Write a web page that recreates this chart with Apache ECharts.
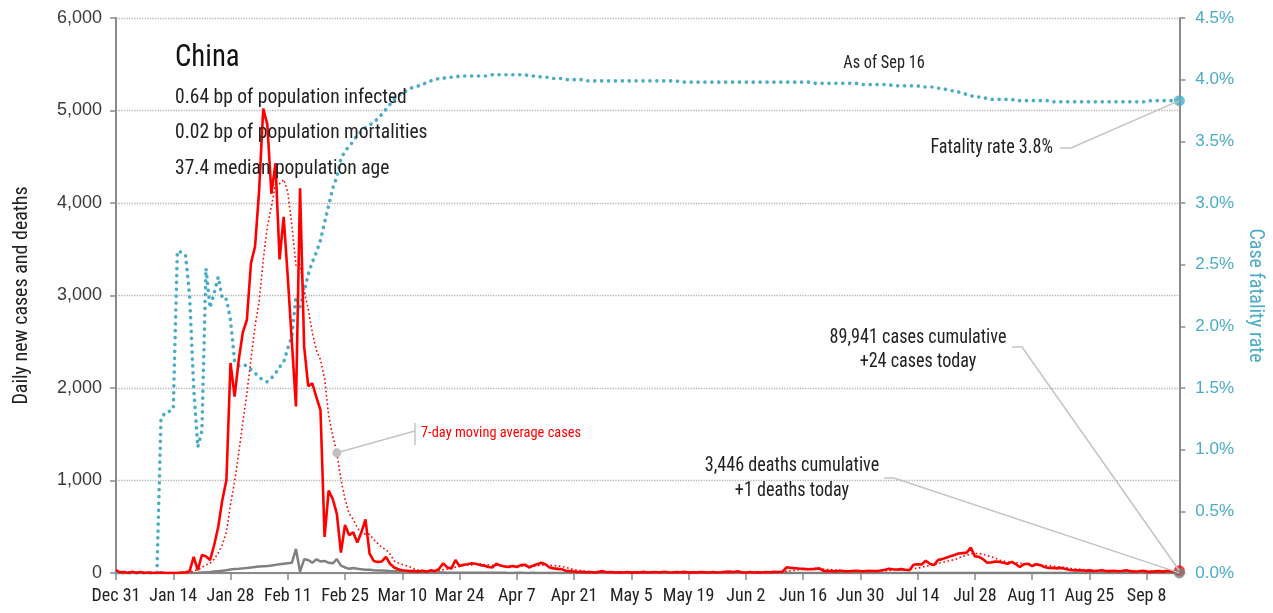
<!DOCTYPE html>
<html><head><meta charset="utf-8">
<script src="https://cdn.jsdelivr.net/npm/echarts@6/dist/echarts.min.js"></script>
<style>html,body{margin:0;padding:0;background:#fff}#c{width:1273px;height:613px}</style>
</head><body><div id="c"></div>
<script>
// ---------- DATA ----------
const startDate = [2019, 11, 31]; // Dec 31, 2019
const dayCount = 261;              // Dec 31 .. Sep 16
const tickLabels = ['Dec 31','Jan 14','Jan 28','Feb 11','Feb 25','Mar 10','Mar 24','Apr 7','Apr 21','May 5','May 19','Jun 2','Jun 16','Jun 30','Jul 14','Jul 28','Aug 11','Aug 25','Sep 8'];

const dailyCases = [
30,5,10,0,15,0,10,0,5,0,
0,5,0,0,0,0,5,5,20,175,
30,195,180,140,300,500,790,1005,2270,1906,
2300,2600,2735,3350,3530,4140,5020,4850,4100,4430,
3390,3850,3200,2500,1800,4160,2450,2020,2050,1900,
1760,390,890,800,640,220,520,410,440,330,
440,580,210,130,120,125,175,100,60,40,
30,25,20,20,15,25,15,30,20,45,
105,60,50,140,75,90,95,105,100,85,
80,65,60,100,80,70,65,75,65,85,
90,60,80,95,110,95,60,50,45,40,
25,20,15,10,12,8,10,6,12,20,
8,10,5,8,6,10,4,8,6,12,
5,8,10,6,14,8,6,10,8,12,
5,8,6,10,8,5,10,6,8,12,
15,10,18,8,6,10,5,8,6,10,
8,12,10,15,62,55,52,48,45,42,
40,45,50,22,20,22,18,25,20,18,
22,25,20,18,25,22,20,28,35,45,
40,38,42,35,30,90,95,92,133,100,
85,140,150,165,180,195,210,215,220,275,
180,175,150,110,115,125,120,110,100,120,
95,65,95,100,75,95,85,65,55,55,
50,55,45,35,30,28,30,25,28,22,
25,30,22,20,25,18,22,30,20,15,
18,25,15,12,18,20,15,25,20,15,
24];

const avgCases = [
30,17,15,11,12,10,10,6,6,4,
4,3,3,3,1,1,1,2,5,29,
34,61,87,106,149,217,305,444,741,987,
1296,1624,1944,2309,2670,2937,3382,3746,3961,4203,
4209,4254,4120,3760,3324,3333,3050,2854,2597,2411,
2306,2104,1700,1480,1300,1010,800,640,580,490,
429,420,419,363,321,276,254,206,131,107,
93,79,64,42,30,25,21,21,21,24,
36,43,46,64,71,81,88,88,94,99,
90,89,84,85,81,77,74,74,74,77,
76,73,74,79,84,88,84,79,76,71,
61,48,36,29,24,19,14,12,10,11,
11,10,10,9,9,9,8,7,7,8,
7,8,8,8,8,8,8,9,9,9,
9,8,8,8,8,8,8,8,8,8,
10,10,11,11,11,11,10,10,9,8,
8,8,8,10,18,25,31,36,41,46,
49,47,46,42,38,34,31,29,25,21,
21,21,21,21,21,21,22,23,24,28,
31,33,35,38,38,46,53,60,74,82,
89,105,114,124,136,145,161,179,191,209,
211,210,204,189,175,161,139,129,119,114,
112,105,101,98,93,92,87,83,81,76,
69,66,59,51,46,43,39,35,32,28,
27,27,25,24,24,23,22,24,23,21,
21,22,21,19,19,19,18,18,19,18,
19];

const dailyDeaths = [
0,0,0,0,0,0,0,0,0,0,
0,1,0,0,0,0,0,0,1,1,
2,5,8,10,15,20,25,30,38,42,
45,50,55,60,65,70,73,75,80,88,
95,100,105,110,260,14,148,140,110,148,
125,130,110,105,150,80,60,45,55,45,
40,35,35,30,28,28,25,22,20,17,
15,12,10,10,8,8,7,6,5,5,
5,4,4,3,3,4,3,3,3,2,
2,2,3,2,2,2,1,1,2,2,
1,1,2,1,1,1,0,1,0,0,
1,0,0,0,1,0,0,0,0,1,
0,0,0,0,0,1,0,0,0,0,
0,0,1,0,0,0,0,0,0,0,
0,0,0,0,0,0,0,1,0,0,
0,0,0,0,0,0,0,0,0,0,
0,0,0,0,0,0,0,0,0,0,
0,0,0,0,0,0,0,0,0,0,
0,0,0,0,0,0,0,0,0,0,
0,0,0,0,0,0,0,0,0,0,
0,0,0,0,0,0,0,0,0,0,
0,0,0,0,0,0,0,0,0,0,
0,0,0,0,0,0,0,0,0,0,
0,0,0,0,0,0,0,0,0,0,
0,0,0,0,0,0,0,0,0,0,
0,0,0,0,0,0,0,0,0,0,
1];

const fatalityRate = [
0,0,0,0,0,0,0,0,0,0,
0,1.25,1.30,1.31,1.33,2.61,2.60,2.58,2.25,1.50,
1.02,1.15,2.47,2.15,2.27,2.40,2.22,2.22,2.05,1.72,
1.68,1.69,1.68,1.65,1.62,1.59,1.56,1.55,1.58,1.62,
1.67,1.71,1.82,1.92,2.24,2.16,2.28,2.42,2.52,2.60,
2.70,2.84,2.98,3.12,3.21,3.36,3.42,3.46,3.50,3.55,
3.58,3.61,3.63,3.66,3.68,3.72,3.76,3.80,3.84,3.87,
3.89,3.91,3.93,3.94,3.95,3.96,3.98,3.99,4.00,4.01,
4.01,4.02,4.02,4.02,4.03,4.03,4.03,4.03,4.03,4.03,
4.03,4.03,4.04,4.04,4.04,4.04,4.04,4.04,4.04,4.04,
4.04,4.03,4.03,4.03,4.02,4.02,4.02,4.01,4.01,4.01,
4.00,4.00,4.00,4.00,4.00,3.99,3.99,3.99,3.99,3.99,
3.99,3.99,3.99,3.99,3.99,3.99,3.99,3.99,3.99,3.99,
3.99,3.99,3.99,3.99,3.99,3.99,3.99,3.99,3.98,3.98,
3.98,3.98,3.98,3.98,3.98,3.98,3.98,3.98,3.98,3.98,
3.98,3.98,3.98,3.98,3.98,3.98,3.98,3.98,3.98,3.98,
3.98,3.98,3.98,3.98,3.98,3.98,3.98,3.98,3.98,3.98,
3.98,3.97,3.97,3.97,3.97,3.97,3.97,3.97,3.97,3.97,
3.97,3.97,3.96,3.96,3.96,3.96,3.96,3.96,3.96,3.96,
3.95,3.95,3.95,3.95,3.95,3.95,3.95,3.94,3.94,3.94,
3.94,3.93,3.93,3.92,3.91,3.91,3.90,3.89,3.88,3.87,
3.86,3.86,3.85,3.85,3.84,3.84,3.84,3.84,3.84,3.84,
3.83,3.83,3.83,3.83,3.83,3.83,3.83,3.83,3.83,3.82,
3.82,3.82,3.82,3.82,3.82,3.82,3.82,3.82,3.82,3.82,
3.82,3.82,3.82,3.82,3.82,3.82,3.82,3.82,3.82,3.82,
3.82,3.82,3.82,3.83,3.83,3.83,3.83,3.83,3.83,3.83,
3.83];

const titleText = 'China';
const infoLines = ['0.64 bp of population infected','0.02 bp of population mortalities','37.4 median population age'];
const asOfText = 'As of Sep 16';
const rateText = 'Fatality rate 3.8%';
const casesText = ['89,941 cases cumulative','+24 cases today'];
const deathsText = ['3,446 deaths cumulative','+1 deaths today'];
const avgLabel = '7-day moving average cases';
const avgAnchorDay = 54;

// ---------- FONT PICK ----------
function hasFont(name) {
  const ctx = document.createElement('canvas').getContext('2d');
  const s = 'abcdefghijklmnopqrstuvwxyzABCDEFGHIJKLM0123456789';
  let diff = false;
  ['monospace', 'serif'].forEach(fb => {
    ctx.font = '40px ' + fb; const a = ctx.measureText(s).width;
    ctx.font = '40px "' + name + '", ' + fb; const b = ctx.measureText(s).width;
    if (Math.abs(a - b) > 0.5) diff = true;
  });
  return diff;
}
const condCandidates = [
  {name: 'Roboto Condensed', sx: 0.93, xl: 18, nm: 1.13},
  {name: 'Liberation Sans Narrow', sx: 0.93, xl: 18, nm: 1.1},
  {name: 'Arial Narrow', sx: 0.93, xl: 18, nm: 1.1},
  {name: 'DejaVu Sans Condensed', sx: 0.82, xl: 15, nm: 1.0}
];
let COND = condCandidates[condCandidates.length - 1];
for (const c of condCandidates) { if (hasFont(c.name)) { COND = c; break; } }
const NARROW = '"' + COND.name + '", sans-serif';
const REG = '"Liberation Sans", Arial, sans-serif';

// ---------- BUILD ----------
const MON = ['Jan','Feb','Mar','Apr','May','Jun','Jul','Aug','Sep','Oct','Nov','Dec'];
const categories = [];
for (let i = 0; i < dayCount; i++) {
  const d = new Date(Date.UTC(startDate[0], startDate[1], startDate[2] + i));
  categories.push(MON[d.getUTCMonth()] + ' ' + d.getUTCDate());
}
const BLUE = '#4bacc6';
const RED = '#ff0000';
const GREY = '#808080';
const last = dayCount - 1;

const chart = echarts.init(document.getElementById('c'), null, {renderer: 'canvas'});
const option = {
  animation: false,
  backgroundColor: '#fff',
  grid: {left: 116, right: 90, top: 18, bottom: 40, containLabel: false},
  xAxis: {
    type: 'category', data: categories, boundaryGap: false,
    axisLine: {lineStyle: {color: '#8a8a8a', width: 2}},
    axisTick: {show: true, interval: 13, length: 7, lineStyle: {color: '#8a8a8a', width: 1.5}},
    axisLabel: {interval: 13, margin: 14, color: '#222', fontSize: COND.xl, fontFamily: NARROW,
      formatter: (v, i) => tickLabels[Math.round(i / 14)]},
    splitLine: {show: false}
  },
  yAxis: [{
    type: 'value', position: 'left', min: 0, max: 6000, interval: 1000,
    name: 'Daily new cases and deaths', nameLocation: 'middle', nameRotate: 90, nameGap: 84,
    nameTextStyle: {color: '#222', fontSize: Math.round(17.5 * COND.nm), fontFamily: NARROW},
    axisLine: {show: true, lineStyle: {color: '#8a8a8a', width: 2}},
    axisTick: {show: true, length: 6, lineStyle: {color: '#8a8a8a', width: 1.5}},
    axisLabel: {margin: 14, color: '#3a3a3a', fontSize: 18, fontFamily: REG,
      formatter: v => v.toLocaleString('en-US')},
    splitLine: {show: true, lineStyle: {type: 'dotted', color: '#b4b4b4', width: 1.3}}
  }, {
    type: 'value', position: 'right', min: 0, max: 4.5, interval: 0.5,
    name: 'Case fatality rate', nameLocation: 'middle', nameRotate: -90, nameGap: 62,
    nameTextStyle: {color: BLUE, fontSize: 20, fontFamily: NARROW},
    axisLine: {show: true, lineStyle: {color: '#8a8a8a', width: 2}},
    axisTick: {show: true, length: 6, lineStyle: {color: '#8a8a8a', width: 1.5}},
    axisLabel: {margin: 16, color: BLUE, fontSize: 17, fontFamily: REG,
      formatter: v => v.toFixed(1) + '%'},
    splitLine: {show: false}
  }],
  series: [
    {name: 'Deaths', type: 'line', yAxisIndex: 0, data: dailyDeaths, symbol: 'none',
      lineStyle: {color: GREY, width: 2.5}, z: 2},
    {name: 'Fatality rate', type: 'line', yAxisIndex: 1, data: fatalityRate, symbol: 'none',
      lineStyle: {color: BLUE, width: 3.6, type: [0.1, 6.8], cap: 'round'}, z: 3},
    {name: '7-day avg', type: 'line', yAxisIndex: 0, data: avgCases, symbol: 'none',
      lineStyle: {color: RED, width: 1.6, type: [1.6, 2.6]}, z: 4},
    {name: 'Cases', type: 'line', yAxisIndex: 0, data: dailyCases, symbol: 'none',
      lineStyle: {color: RED, width: 2.6}, z: 5},
    {type: 'scatter', yAxisIndex: 0, data: [[last, dailyCases[last]]], symbolSize: 11,
      itemStyle: {color: RED}, z: 6},
    {type: 'scatter', yAxisIndex: 0, data: [[last, dailyDeaths[last]]], symbolSize: 11,
      itemStyle: {color: GREY}, z: 7},
    {type: 'scatter', yAxisIndex: 1, data: [[last, fatalityRate[last]]], symbolSize: 11,
      itemStyle: {color: BLUE}, z: 7}
  ]
};
chart.setOption(option);

const pRate = chart.convertToPixel({xAxisIndex: 0, yAxisIndex: 1}, [last, fatalityRate[last]]);
const pCase = chart.convertToPixel({xAxisIndex: 0, yAxisIndex: 0}, [last, dailyCases[last]]);
const pDeath = chart.convertToPixel({xAxisIndex: 0, yAxisIndex: 0}, [last, dailyDeaths[last]]);
const pAvg = chart.convertToPixel({xAxisIndex: 0, yAxisIndex: 0}, [avgAnchorDay, avgCases[avgAnchorDay]]);

function txt(text, x, y, size, color, align) {
  return {type: 'text', z: 20, silent: true, x: x, y: y, scaleX: COND.sx, scaleY: 1,
    style: {text: text, x: 0, y: 0, fill: color, font: size + 'px ' + NARROW,
      align: align || 'left', verticalAlign: 'middle', textAlign: align || 'left', textVerticalAlign: 'middle'}};
}
function poly(points) {
  return {type: 'polyline', z: 15, silent: true, shape: {points: points},
    style: {stroke: '#c4c4c4', lineWidth: 1.5, fill: null}};
}
const graphics = [
  txt(titleText, 175, 58, 31, '#111'),
  txt(infoLines[0], 175, 98, 21, '#222'),
  txt(infoLines[1], 175, 133, 21, '#222'),
  txt(infoLines[2], 175, 169, 21, '#222'),
  txt(asOfText, 884, 64, 17.5, '#222', 'center'),
  txt(rateText, 1053, 148, 19.5, '#222', 'right'),
  poly([[1060, 148], [1071, 148], [pRate[0], pRate[1]]]),
  txt(casesText[0], 918, 338, 19.5, '#222', 'center'),
  txt(casesText[1], 918, 362, 19.5, '#222', 'center'),
  poly([[1012, 347], [1022, 347], [pCase[0], pCase[1]]]),
  txt(deathsText[0], 792, 466, 19.5, '#222', 'center'),
  txt(deathsText[1], 792, 491, 19.5, '#222', 'center'),
  poly([[884, 478], [894, 478], [pDeath[0], pDeath[1]]]),
  txt(avgLabel, 421, 433, 15.5, RED),
  poly([[415, 423], [415, 445]]),
  poly([[415, 431], [pAvg[0], pAvg[1]]]),
  {type: 'circle', z: 16, silent: true, shape: {cx: pAvg[0], cy: pAvg[1], r: 4.5}, style: {fill: '#c0c0c0'}}
];
chart.setOption({graphic: graphics});
</script>
</body></html>
